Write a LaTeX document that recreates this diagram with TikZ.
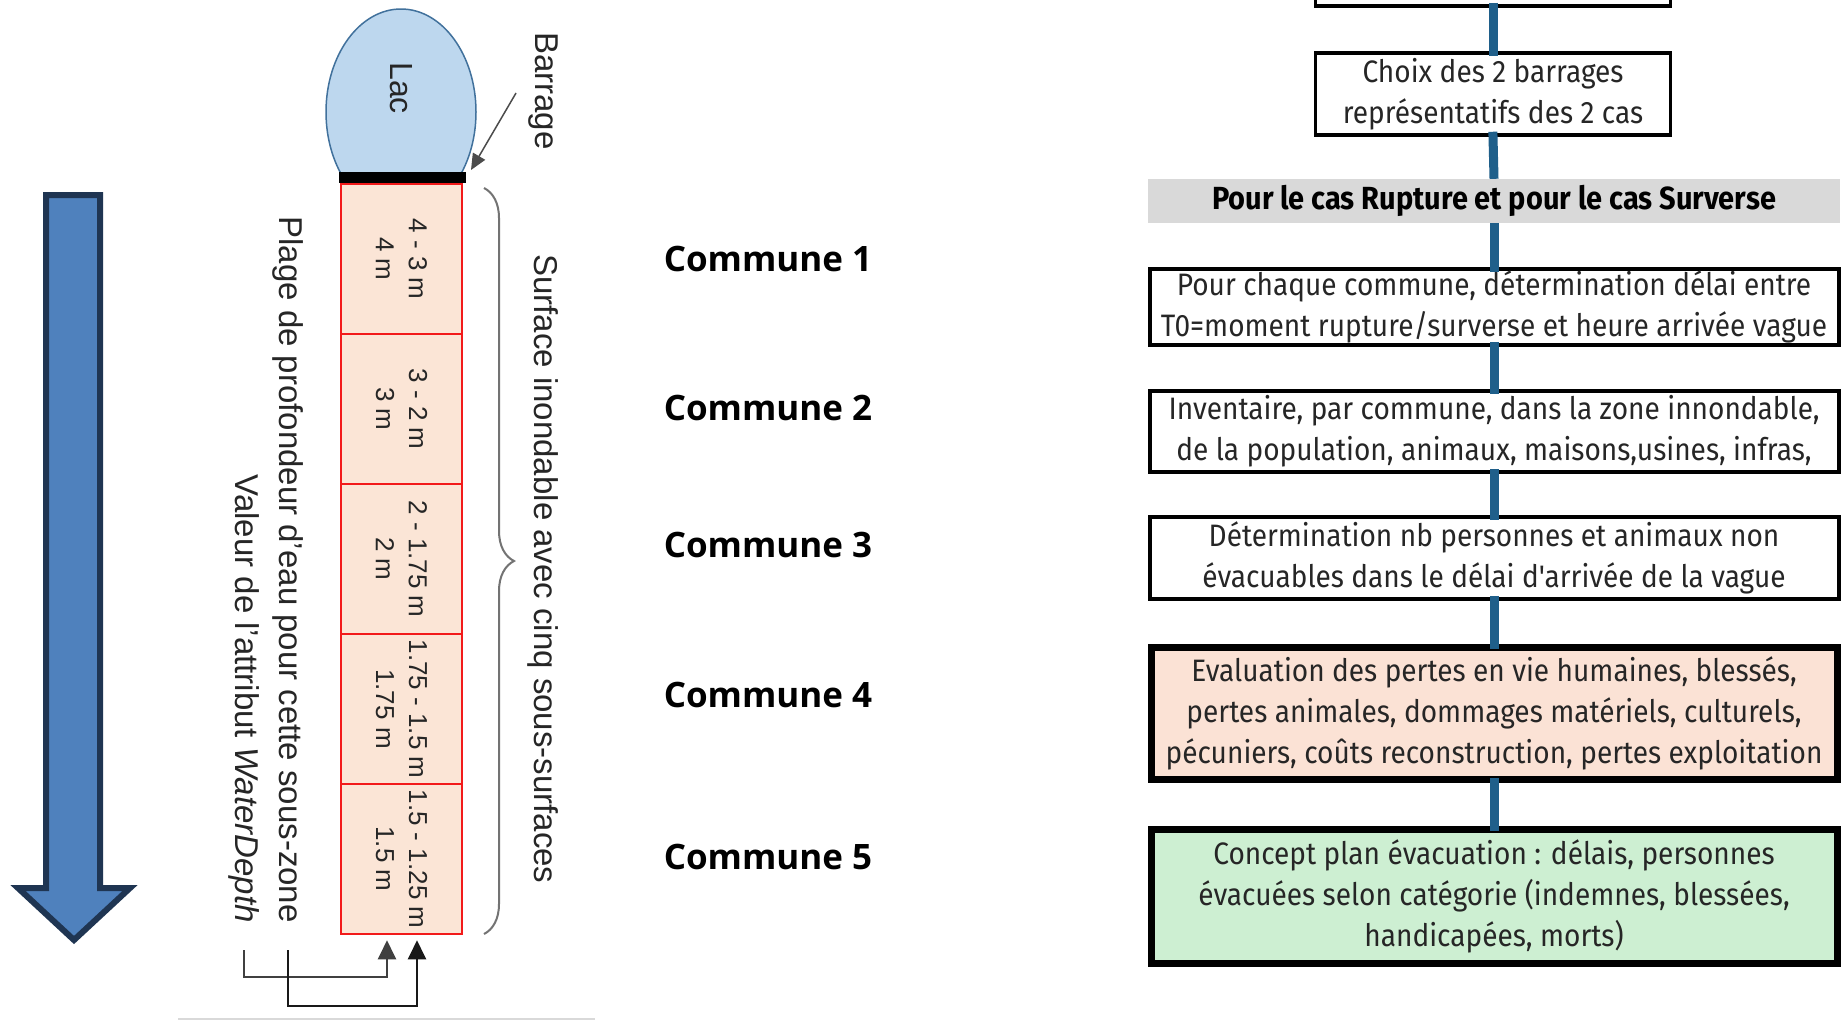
\documentclass[tikz,border=0pt]{standalone}
\usepackage{fontspec}
\setmainfont{Liberation Sans}
\newfontfamily\flowfont[FakeStretch=0.905]{Fira Sans}
\newfontfamily\comfont{Open Sans}
\usetikzlibrary{arrows.meta,decorations.pathreplacing}
\definecolor{zfill}{HTML}{FBE5D6}
\definecolor{zred}{HTML}{F21A1A}
\definecolor{lakefill}{HTML}{BDD7EE}
\definecolor{lakeedge}{HTML}{41719C}
\definecolor{bigblue}{HTML}{4F81BD}
\definecolor{bignavy}{HTML}{1F3552}
\definecolor{peachbox}{HTML}{FBE2D5}
\definecolor{greenbox}{HTML}{CDEFD2}
\definecolor{bandgray}{HTML}{D9D9D9}
\definecolor{connblue}{HTML}{1F5F8A}
\definecolor{txtdark}{HTML}{262626}
\begin{document}
\begin{tikzpicture}[x=1pt,y=-1pt,
  lbl/.style={inner sep=0pt, text=txtdark, font=\fontsize{33}{40}\selectfont},
  zone/.style={draw=zred, fill=zfill, line width=2.5pt, rotate=-90,
    minimum width=150pt, minimum height=121pt, inner sep=0pt, align=center,
    text=txtdark, font=\fontsize{26}{33}\selectfont},
  com/.style={inner sep=0pt, font=\comfont\bfseries\fontsize{35}{40}\selectfont},
  fbox/.style={draw=black, fill=white, line width=4pt, inner sep=0pt, align=center,
    text=txtdark, font=\flowfont\fontsize{31}{41}\selectfont},
  conn/.style={draw=connblue, line width=9pt, shorten <=-5pt, shorten >=-5pt},
  link/.style={draw=black!75, line width=2pt, -{Triangle[length=19pt,width=18pt]}},
]
\useasboundingbox (0,0) rectangle (1843,1021);
\clip (0,0) rectangle (1843,1021);
\fill[white] (0,0) rectangle (1843,1021);

% big blue arrow
\draw[fill=bigblue, draw=bignavy, line width=6pt, line join=miter]
  (46,195) -- (100,195) -- (100,888) -- (130,888) -- (74,940) -- (18,888) -- (46,888) -- cycle;

% lake
\begin{scope}
  \clip (300,0) rectangle (500,177);
  \draw[fill=lakefill, draw=lakeedge, line width=1.5pt] (401,112) ellipse [x radius=75, y radius=103];
\end{scope}
\node[lbl, rotate=-90, font=\fontsize{32}{38}\selectfont] (lac) at (401,88) {Lac};
\draw[line width=11pt] (339,177) -- (466,177);
\coordinate (damR) at (471,170);
\node[lbl, rotate=-90, font=\fontsize{33}{38}\selectfont] (barrage) at (543,91) {Barrage};
\draw[draw=black!70, line width=1.5pt, -{Triangle[length=16pt,width=14pt]}] ([xshift=-12pt,yshift=-2pt]barrage.south) -- (damR);

% zones
\node[zone] (z1) at (401.5,259) {4 - 3 m\\4 m};
\node[zone] (z2) at (401.5,409) {3 - 2 m\\3 m};
\node[zone] (z3) at (401.5,559) {2 - 1.75 m\\2 m};
\node[zone] (z4) at (401.5,709) {1.75 - 1.5 m\\1.75 m};
\node[zone] (z5) at (401.5,859) {1.5 - 1.25 m\\1.5 m};

% brace
\draw[draw=black!55, line width=2pt, decorate, decoration={brace, amplitude=30pt}] (484,188) -- (484,934);
\node[lbl, rotate=-90] (surf) at (543,569) {Surface inondable avec cinq sous-surfaces};

% left labels
\node[lbl, rotate=-90, anchor=east] (plage) at (288,923) {Plage de profondeur d'eau pour cette sous-zone};
\node[lbl, rotate=-90, anchor=east] (val) at (244,923) {Valeur de l'attribut \textit{WaterDepth}};
\draw[link] ([yshift=-27pt]val.east) |- ([xshift=-14.5pt,yshift=-42pt]z5.east) -- ([xshift=-14.5pt,yshift=-5pt]z5.east);
\draw[link, draw=black!90] ([yshift=-27pt]plage.east) |- ([xshift=15.5pt,yshift=-71pt]z5.east) -- ([xshift=15.5pt,yshift=-5pt]z5.east);
\draw[draw=black!15, line width=2pt] (178,1019) -- (595,1019);

% communes
\node[com] (c1) at (768,259) {Commune 1};
\node[com] (c2) at (768,408) {Commune 2};
\node[com] (c3) at (768,545) {Commune 3};
\node[com] (c4) at (768,695) {Commune 4};
\node[com] (c5) at (768,857) {Commune 5};

% flowchart
\node[fbox, line width=3.5pt, minimum width=355pt, minimum height=60pt] (b0) at (1493,-24) {};
\node[fbox, line width=3.5pt, minimum width=355pt, minimum height=82pt] (b1) at (1493,94) {Choix des 2 barrages\\représentatifs des 2 cas};
\node[fill=bandgray, inner sep=0pt, minimum width=692pt, minimum height=44pt,
  font=\flowfont\bfseries\fontsize{32}{36}\selectfont, text=black] (band) at (1494,201) {Pour le cas Rupture et pour le cas Surverse};
\node[fbox, minimum width=689pt, minimum height=76pt] (b3) at (1494,307) {Pour chaque commune, détermination délai entre\\T0=moment rupture/surverse et heure arrivée vague};
\node[fbox, minimum width=689pt, minimum height=81pt] (b4) at (1494,431.5) {Inventaire, par commune, dans la zone innondable,\\de la population, animaux, maisons,usines, infras,};
\node[fbox, minimum width=689pt, minimum height=82pt] (b5) at (1494,558) {Détermination nb personnes et animaux non\\évacuables dans le délai d'arrivée de la vague};
\node[fbox, fill=peachbox, line width=7pt, minimum width=686pt, minimum height=132pt] (b6) at (1494,713.5) {Evaluation des pertes en vie humaines, blessés,\\pertes animales, dommages matériels, culturels,\\pécuniers, coûts reconstruction, pertes exploitation};
\node[fbox, fill=greenbox, line width=7pt, minimum width=686pt, minimum height=134pt] (b7) at (1494,896.5) {Concept plan évacuation : délais, personnes\\évacuées selon catégorie (indemnes, blessées,\\handicapées, morts)};

\draw[conn] (b0.south) -- (b1.north);
\draw[conn, shorten >=0pt] (b1.south) -- (band.north);
\draw[conn, shorten <=0pt] (band.south) -- (b3.north);
\draw[conn] (b3.south) -- (b4.north);
\draw[conn] (b4.south) -- (b5.north);
\draw[conn] (b5.south) -- (b6.north);
\draw[conn] (b6.south) -- (b7.north);
\end{tikzpicture}
\end{document}
